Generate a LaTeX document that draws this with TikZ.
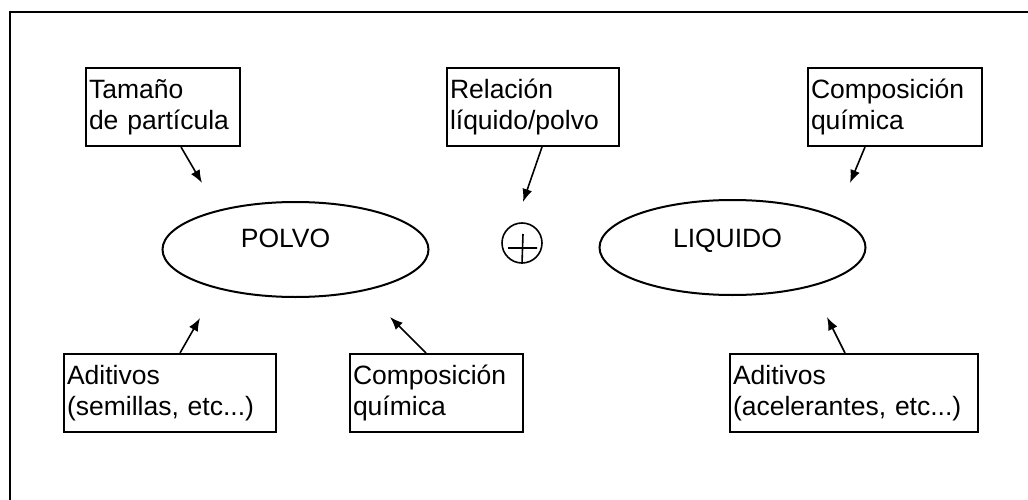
\documentclass[tikz,border=0pt]{standalone}
\usepackage{fontspec}
\setmainfont{Liberation Sans}
\usetikzlibrary{shapes, positioning, arrows.meta}

\begin{document}
\begin{tikzpicture}[x=1pt, y=-1pt, line width=2pt,
    caja/.style={draw, rectangle, minimum height=78pt, inner xsep=3pt, inner ysep=0pt,
        align=left, font=\fontsize{26.5}{31}\selectfont},
    fase/.style={draw, ellipse, minimum width=266pt, minimum height=95pt},
    etiq/.style={font=\fontsize{26.5}{30}\selectfont},
    flecha/.style={-{Latex[length=13pt, width=10pt]}, line width=1.6pt}]

        \useasboundingbox (0,0) rectangle (1028,500);
        \begin{scope}
            \clip (0,0) rectangle (1028,500);
            \draw (10,540) -- (10,12) -- (1060,12);
        \end{scope}

        % polvo y liquido
        \node[fase] (polvo) at (295.5,249.5) {};
        \node[etiq] at ([xshift=-10pt, yshift=11pt]polvo.center) {POLVO};
        \node[fase] (liquido) at (732.5,247.5) {};
        \node[etiq] at ([xshift=-5pt, yshift=7pt]liquido.center) {LIQUIDO};

        \node[draw, circle, minimum size=40pt, inner sep=0pt, line width=1.6pt] (mas) at (522,243) {};
        \draw[line width=1.6pt] (508,248) -- (537,248)
            (523,234) -- (mas.south);

        % cajas
        \node[caja, text width=148pt] (tam) at (163,107) {Tamaño\\de partícula};
        \node[caja, text width=166pt] (rel) at (533,107) {Relación\\líquido/polvo};
        \node[caja, text width=168pt] (compL) at (895,107) {Composición\\química};
        \node[caja, text width=206pt] (aditP) at (170,393) {Aditivos\\(semillas, etc...)};
        \node[caja, text width=167pt] (compP) at (436.5,393) {Composición\\química};
        \node[caja, text width=242pt] (aditL) at (854,393) {Aditivos\\(acelerantes, etc...)};

        \coordinate (tamTip) at (202,183);
        \coordinate (relTip) at (523,202);
        \coordinate (compLTip) at (850,183);
        \coordinate (aditPTip) at (200,318);
        \coordinate (compPTip) at (390,317);
        \coordinate (aditLTip) at (827,317);

        \draw[flecha] ([xshift=18pt]tam.south) -- (tamTip);
        \draw[flecha] ([xshift=9pt]rel.south) -- (relTip);
        \draw[flecha] ([xshift=-30pt]compL.south) -- (compLTip);
        \draw[flecha] ([xshift=10pt]aditP.north) -- (aditPTip);
        \draw[flecha] ([xshift=-10.5pt]compP.north) -- (compPTip);
        \draw[flecha] ([xshift=-9pt]aditL.north) -- (aditLTip);
    \end{tikzpicture}
\end{document}
